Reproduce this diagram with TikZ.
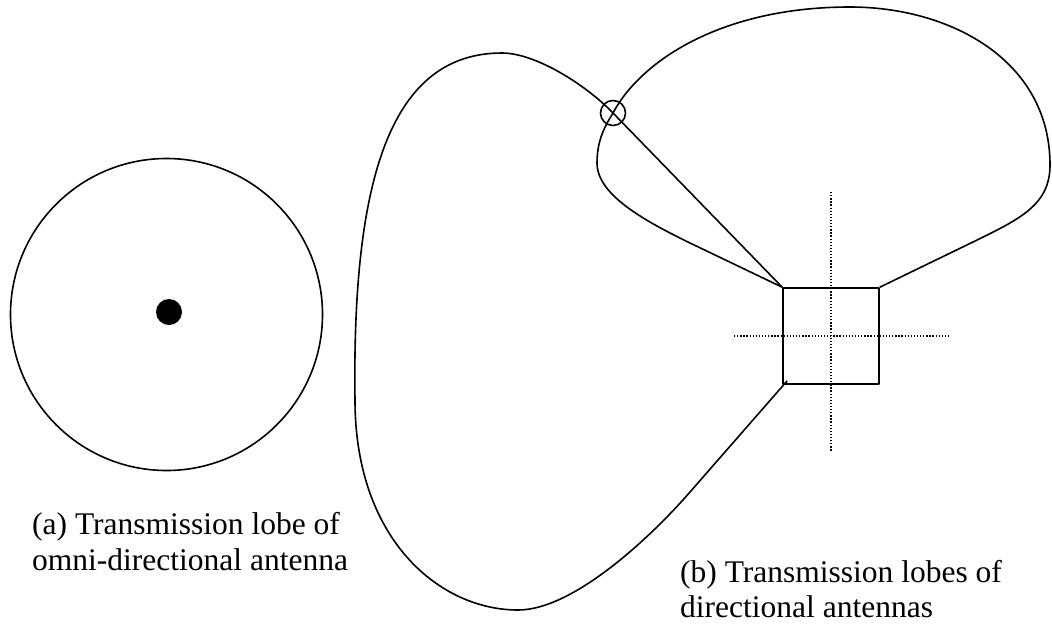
\documentclass[tikz,border=0pt]{standalone}
\usepackage{fontspec}
\setmainfont{Liberation Serif}
\usetikzlibrary{calc}
\begin{document}
\begin{tikzpicture}[x=1pt,y=-1pt,
  lobe/.style={line width=1.6pt, line join=round},
  axis/.style={line width=1.3pt, dash pattern=on 1.3pt off 1.8pt},
  caption/.style={anchor=base west, inner sep=0pt, font=\fontsize{31.5}{36}\selectfont}]
\useasboundingbox (0,0) rectangle (1052,625);

% (a) omni-directional antenna: circular lobe with the antenna at its centre
\draw[lobe] (166.5,314.5) circle[radius=156];
\fill (169,312) circle[radius=13];

% (b) dotted reference axes through the directional antenna
\draw[axis] (831,192) -- (831,452);
\draw[axis] (734,336) -- (948,336);

% the antenna itself
\node[draw, lobe, minimum size=96pt, inner sep=0pt] (ant) at (831,336) {};

% point where the two lobes cross
\coordinate (cross) at (613,113);

% large lobe to the left
\draw[lobe] ($(ant.south west)+(5,-4)$) -- (690,492)
  .. controls (650,538) and (573,610) .. (518,610)
  .. controls (440,610) and (355,540) .. (355,400)
  .. controls (352,180) and (390,53) .. (502,53)
  .. controls (535,53) and (585,84) .. (cross)
  -- (ant.north west);

% lobe to the upper right
\draw[lobe] (ant.north west) -- (690,243)
  .. controls (645,221) and (597,195) .. (597,163)
  .. controls (597,140) and (605,126) .. (cross)
  .. controls (640,62) and (720,7) .. (850,7)
  .. controls (950,7) and (1050,60) .. (1050,165)
  .. controls (1050,205) and (1020,219) .. (973,242)
  -- (ant.north east);

% marker on the crossing point
\draw[lobe] (cross) circle[radius=12.5];

% captions
\node[caption] (capa1) at (32,534) {(a) Transmission lobe of};
\node[caption] (capa2) at (32,570) {omni-directional antenna};
\node[caption] (capb1) at (680,582) {(b) Transmission lobes of};
\node[caption] (capb2) at (680,617) {directional antennas};
\end{tikzpicture}
\end{document}
